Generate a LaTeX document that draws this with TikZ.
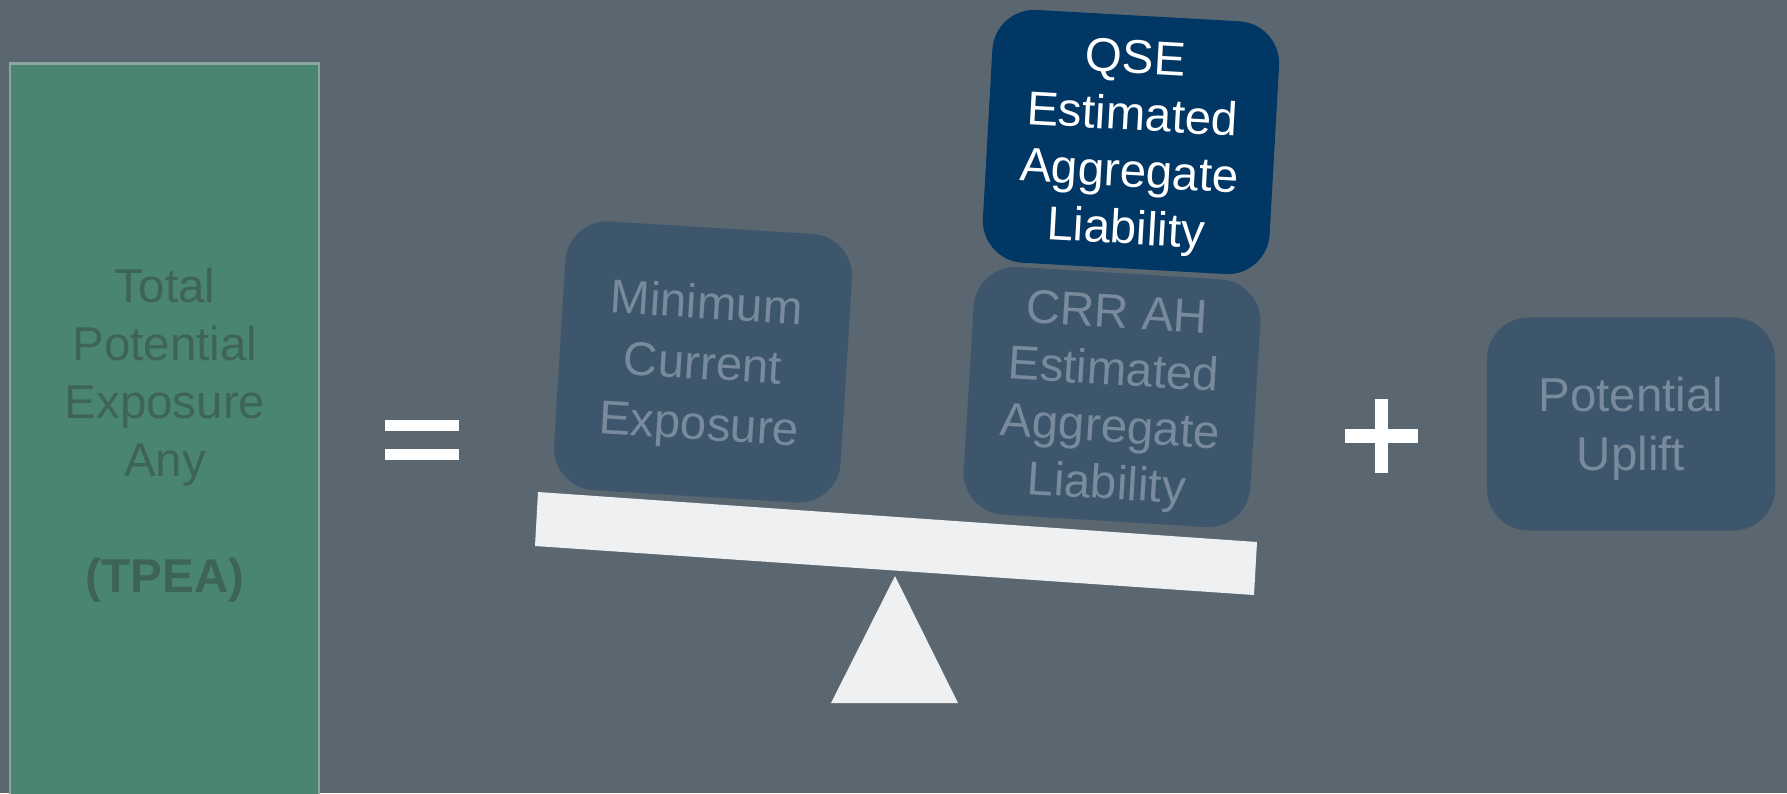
\documentclass[tikz,border=0pt]{standalone}
\usepackage{fontspec}
\setmainfont{Liberation Sans}
\usepackage{tikz}
\usetikzlibrary{calc}
\definecolor{slate}{RGB}{91,103,112}
\definecolor{tpeagreen}{RGB}{74,133,112}
\definecolor{tpeaedge}{RGB}{140,166,160}
\definecolor{tpeatext}{RGB}{62,100,88}
\definecolor{tilefill}{RGB}{62,86,107}
\definecolor{tiletext}{RGB}{120,138,155}
\definecolor{qsenavy}{RGB}{0,55,100}
\definecolor{plankgray}{RGB}{238,240,242}
\tikzset{
  tile/.style={fill=tilefill, text=tiletext, rounded corners=0.42cm, inner sep=0pt,
    minimum width=2.87cm, minimum height=2.48cm, align=center, text depth=0pt,
    font=\fontsize{13.5}{16.8}\selectfont},
  stack/.style={font=\fontsize{13.5}{16.2}\selectfont}
}

\begin{document}
\begin{tikzpicture}[x=0.01cm,y=-0.01cm]
\fill[slate] (0,0) rectangle (1787,793);
\clip (0,0) rectangle (1787,793);
\draw[tpeaedge, line width=0.85pt, fill=tpeagreen] (10,63) rectangle (319,800);
\node[text=tpeatext, align=center, text depth=0pt, font=\fontsize{13.5}{16.5}\selectfont] (tpea) at (165,430)
  {Total\\Potential\\Exposure\\Any\\[16.5pt]\textbf{(TPEA)}};

\fill[white] (385,420) rectangle (459,431);
\fill[white] (385,449) rectangle (459,460);

\fill[plankgray] (538,492) -- (1257,542) -- (1254,595) -- (535,546) -- cycle;
\fill[plankgray] (895,576) -- (958,703) -- (831,703) -- cycle;

\node[tile, minimum height=2.69cm, rotate=-3.5, font=\fontsize{13.5}{17.2}\selectfont] (mce) at (703,362) {Minimum\\Current\\Exposure};
\node[tile, stack, rotate=-3.5] (crr) at (1112,397) {CRR AH\\Estimated\\Aggregate\\Liability};
\node[tile, stack, fill=qsenavy, text=white, minimum height=2.53cm, rotate=-3.2] (qse) at (1131,142) {QSE\\Estimated\\Aggregate\\Liability};

\fill[white] (1345,429) rectangle (1418,443);
\fill[white] (1375,399) rectangle (1388,473);

\node[tile, minimum width=2.88cm, minimum height=2.13cm] (uplift) at (1631,424) {Potential\\Uplift};
\end{tikzpicture}
\end{document}
